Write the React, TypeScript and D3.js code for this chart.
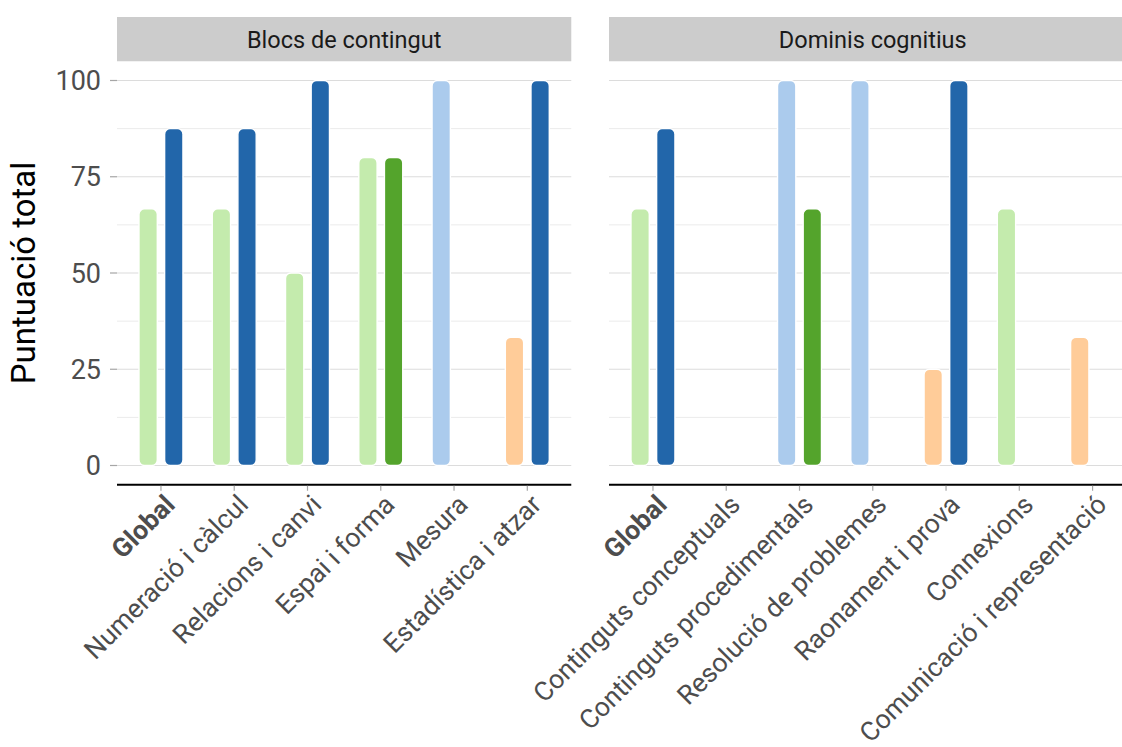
import React, { useEffect } from "react";
import * as d3 from "d3";

const leftCategories = ["Global", "Numeració i càlcul", "Relacions i canvi", "Espai i forma", "Mesura", "Estadística i atzar"];
const leftFirstValues = [66.67, 66.67, 50, 80, 100, 33.33];
const leftFirstLevels = ["L2", "L2", "L2", "L2", "L4", "L1"];
const leftSecondValues = [87.5, 87.5, 100, 80, null, 100];
const leftSecondLevels = ["L5", "L5", "L5", "L3", null, "L5"];

const rightCategories = ["Global", "Continguts conceptuals", "Continguts procedimentals", "Resolució de problemes", "Raonament i prova", "Connexions", "Comunicació i representació"];
const rightFirstValues = [66.67, null, 100, 100, 25, 66.67, 33.33];
const rightFirstLevels = ["L2", null, "L4", "L4", "L1", "L2", "L1"];
const rightSecondValues = [87.5, null, 66.67, null, 100, null, null];
const rightSecondLevels = ["L5", null, "L3", null, "L5", null, null];

const yTicks = [0, 25, 50, 75, 100];
const yMinor = [12.5, 37.5, 62.5, 87.5];

const levelColors: Record<string, string> = {
  L1: "#ffcc99",
  L2: "#c4ebad",
  L3: "#54a42c",
  L4: "#abcbed",
  L5: "#2266aa",
};

const W = 1122;
const H = 747;
const unit = 73.27;
const panelTop = 61.25;
const panelBottom = 484.75;
const stripTop = 17;

type Bar = { cat: string; value: number; level: string; slot: number };

function buildBars(cats: string[], v1: (number | null)[], l1: (string | null)[], v2: (number | null)[], l2: (string | null)[]): Bar[] {
  const out: Bar[] = [];
  cats.forEach((c, i) => {
    if (v1[i] != null && l1[i]) out.push({ cat: c, value: v1[i] as number, level: l1[i] as string, slot: -1 });
    if (v2[i] != null && l2[i]) out.push({ cat: c, value: v2[i] as number, level: l2[i] as string, slot: 1 });
  });
  return out;
}

const y = d3.scaleLinear().domain([-5, 105]).range([panelBottom, panelTop]);

function Panel({ x0, cats, bars, title }: { x0: number; cats: string[]; bars: Bar[]; title: string }) {
  const width = unit * (cats.length - 1 + 1.2);
  const x = d3.scalePoint<string>().domain(cats).range([x0, x0 + width]).padding(0.6);
  const step = x.step();
  const bw = step * 0.25;
  const off = step * 0.175;
  return (
    <g>
      <rect x={x0} y={stripTop} width={width} height={panelTop - stripTop} fill="#cccccc" />
      <text x={x0 + width / 2} y={(stripTop + panelTop) / 2} dy="0.36em" textAnchor="middle" fontSize={23.5} fill="#1a1a1a">{title}</text>
      {yMinor.map((t) => (
        <line key={"m" + t} x1={x0} x2={x0 + width} y1={y(t)} y2={y(t)} stroke="#ebebeb" strokeWidth={1} />
      ))}
      {yTicks.map((t) => (
        <line key={"g" + t} x1={x0} x2={x0 + width} y1={y(t)} y2={y(t)} stroke="#dcdcdc" strokeWidth={1.2} />
      ))}
      {bars.map((b, i) => {
        const cx = (x(b.cat) as number) + b.slot * off;
        const top = y(b.value);
        const bot = y(0);
        return (
          <rect key={i} x={cx - bw / 2} y={top} width={bw} height={bot - top} rx={5.5} ry={5.5}
            fill={levelColors[b.level]} stroke="#ffffff" strokeWidth={1.4} />
        );
      })}
      <line x1={x0} x2={x0 + width} y1={panelBottom} y2={panelBottom} stroke="#000" strokeWidth={2.2} />
      {cats.map((c) => (
        <line key={"t" + c} x1={x(c)} x2={x(c)} y1={panelBottom + 1} y2={panelBottom + 6} stroke="#a6a6a6" strokeWidth={1.2} />
      ))}
      {cats.map((c) => (
        <text key={"l" + c} transform={`translate(${(x(c) as number) + 2},${panelBottom + 8}) rotate(-45)`} textAnchor="end" dy="0.72em"
          fontSize={26.5} fill="#4d4d4d" fontWeight={c === "Global" ? "bold" : "normal"}>{c}</text>
      ))}
    </g>
  );
}

export default function App() {
  useEffect(() => {
    document.body.style.margin = "0";
  }, []);
  const leftBars = buildBars(leftCategories, leftFirstValues, leftFirstLevels, leftSecondValues, leftSecondLevels);
  const rightBars = buildBars(rightCategories, rightFirstValues, rightFirstLevels, rightSecondValues, rightSecondLevels);
  return (
    <svg width={W} height={H} style={{ display: "block", fontFamily: "Roboto, sans-serif", background: "#fff" }}>
      {yTicks.map((t) => (
        <g key={t}>
          <line x1={110} x2={117} y1={y(t)} y2={y(t)} stroke="#a6a6a6" strokeWidth={1.2} />
          <text x={101} y={y(t)} dy="0.36em" textAnchor="end" fontSize={27} fill="#4d4d4d">{t}</text>
        </g>
      ))}
      <text transform={`translate(35,${(panelTop + panelBottom) / 2}) rotate(-90)`} textAnchor="middle" fontSize={33} fill="#000">Puntuació total</text>
      <Panel x0={117} cats={leftCategories} bars={leftBars} title="Blocs de contingut" />
      <Panel x0={609} cats={rightCategories} bars={rightBars} title="Dominis cognitius" />
    </svg>
  );
}
